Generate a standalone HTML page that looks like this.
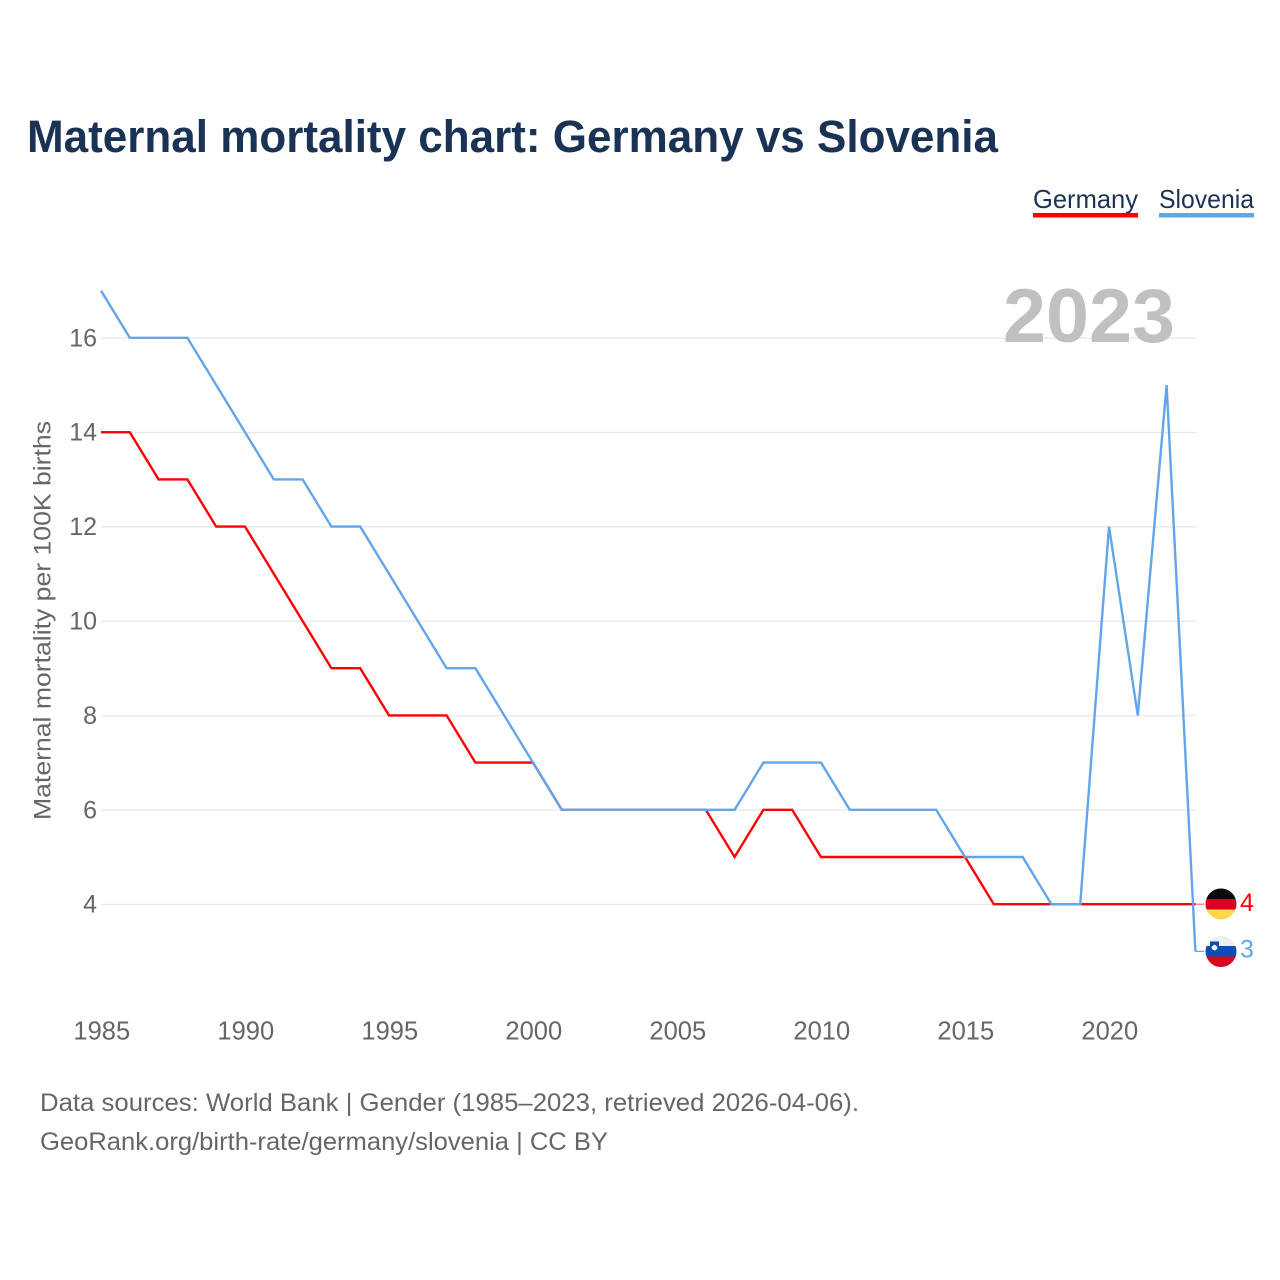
<!DOCTYPE html>
<html lang="en">
<head>
<meta charset="utf-8">
<title>Maternal mortality chart: Germany vs Slovenia</title>
<style>
html,body{margin:0;padding:0;background:#fff;}
svg{display:block;}
text{font-family:"Liberation Sans",sans-serif;}
</style>
</head>
<body>
<svg id="chart" xmlns="http://www.w3.org/2000/svg" width="1280" height="1280" viewBox="0 0 1280 1280">
  <rect x="0" y="0" width="1280" height="1280" fill="#ffffff"/>
  <defs>
    <clipPath id="clip-de"><circle cx="1221" cy="904" r="15.5"/></clipPath>
    <clipPath id="clip-si"><circle cx="1221" cy="951.5" r="15.5"/></clipPath>
  </defs>
  <text x="27" y="152" font-size="45" font-weight="700" fill="#1a3355" textLength="971" lengthAdjust="spacingAndGlyphs">Maternal mortality chart: Germany vs Slovenia</text>

  <g>
    <text x="1033" y="208" font-size="26" fill="#1a3355" textLength="105" lengthAdjust="spacingAndGlyphs">Germany</text>
    <rect x="1033" y="213" width="105" height="4.5" fill="#ff0000"/>
    <text x="1159" y="208" font-size="26" fill="#1a3355" textLength="95" lengthAdjust="spacingAndGlyphs">Slovenia</text>
    <rect x="1159" y="213" width="95" height="4.5" fill="#63a5eb"/>
  </g>

  <g id="grid"></g>
  <g id="y-ticks"></g>
  <g id="x-ticks"></g>

  <text transform="translate(50.5,820) rotate(-90)" x="0" y="0" font-size="24.5" fill="#666666" textLength="399" lengthAdjust="spacingAndGlyphs">Maternal mortality per 100K births</text>

  <text x="1003" y="342" font-size="76" font-weight="700" fill="#c0c0c0" textLength="172" lengthAdjust="spacingAndGlyphs">2023</text>

  <g id="series"></g>
  <g id="end-markers"></g>

  <g clip-path="url(#clip-de)">
    <rect x="1205" y="888" width="32" height="11" fill="#0a0a0a"/>
    <rect x="1205" y="899" width="32" height="10.5" fill="#dd0025"/>
    <rect x="1205" y="909.5" width="32" height="11" fill="#ffd84a"/>
  </g>
  <g clip-path="url(#clip-si)">
    <rect x="1205" y="935" width="32" height="11" fill="#eeeeee"/>
    <rect x="1205" y="946" width="32" height="10.5" fill="#0a4fb5"/>
    <rect x="1205" y="956.5" width="32" height="11" fill="#d8061f"/>
    <path d="M1210 941.5h9v6c0 2.5-2.5 4-4.5 4.5c-2-0.5-4.5-2-4.5-4.5z" fill="#0a4fb5"/>
    <path d="M1211.5 947l3-2.5l3 2.5c0 2-1.5 3-3 3.5c-1.5-0.5-3-1.5-3-3.5z" fill="#ffffff"/>
  </g>

  <g>
    <text x="40" y="1111" font-size="25" fill="#666666" textLength="819" lengthAdjust="spacingAndGlyphs">Data sources: World Bank | Gender (1985–2023, retrieved 2026-04-06).</text>
    <text x="40" y="1150" font-size="25" fill="#666666" textLength="568" lengthAdjust="spacingAndGlyphs">GeoRank.org/birth-rate/germany/slovenia | CC BY</text>
  </g>
</svg>
<script>
const years = [1985,1986,1987,1988,1989,1990,1991,1992,1993,1994,1995,1996,1997,1998,1999,2000,2001,2002,2003,2004,2005,2006,2007,2008,2009,2010,2011,2012,2013,2014,2015,2016,2017,2018,2019,2020,2021,2022,2023];
const germany = [14,14,13,13,12,12,11,10,9,9,8,8,8,7,7,7,6,6,6,6,6,6,5,6,6,5,5,5,5,5,5,4,4,4,4,4,4,4,4];
const slovenia = [17,16,16,16,15,14,13,13,12,12,11,10,9,9,8,7,6,6,6,6,6,6,6,7,7,7,6,6,6,6,5,5,5,4,4,12,8,15,3];
const yTickValues = [4,6,8,10,12,14,16];
const xTickValues = [1985,1990,1995,2000,2005,2010,2015,2020];

const NS = 'http://www.w3.org/2000/svg';
const xScale = function (year) { return 101 + (year - 1985) * 28.8; };
const yScale = function (v) { return 904.2 - (v - 4) * 47.2; };

const gridGroup = document.getElementById('grid');
const yTickGroup = document.getElementById('y-ticks');
const xTickGroup = document.getElementById('x-ticks');
const seriesGroup = document.getElementById('series');
const endGroup = document.getElementById('end-markers');

yTickValues.forEach(function (v) {
  const line = document.createElementNS(NS, 'line');
  
  
  line.setAttribute('x1', 101);
  line.setAttribute('x2', 1196);
  line.setAttribute('y1', yScale(v) + 0.3);
  line.setAttribute('y2', yScale(v) + 0.3);
  line.setAttribute('stroke', '#e6e6e6');
  line.setAttribute('stroke-width', '1.2');
  gridGroup.appendChild(line);

  const label = document.createElementNS(NS, 'text');
  
  
  label.setAttribute('x', 97);
  label.setAttribute('y', yScale(v) + 8.5);
  label.setAttribute('text-anchor', 'end');
  label.setAttribute('font-size', '25');
  label.setAttribute('fill', '#666666');
  label.textContent = String(v);
  yTickGroup.appendChild(label);
});

xTickValues.forEach(function (year) {
  const label = document.createElementNS(NS, 'text');
  
  
  label.setAttribute('x', xScale(year) + 0.8);
  label.setAttribute('y', 1039.5);
  label.setAttribute('text-anchor', 'middle');
  label.setAttribute('font-size', '25.5');
  label.setAttribute('fill', '#666666');
  label.textContent = String(year);
  xTickGroup.appendChild(label);
});

function pathFor(values) {
  return values.map(function (v, i) {
    return (i === 0 ? 'M' : 'L') + xScale(years[i]).toFixed(1) + ' ' + yScale(v).toFixed(1);
  }).join(' ');
}

const germanyConnector = document.createElementNS(NS, 'line');


germanyConnector.setAttribute('x1', xScale(years[years.length - 1]));
germanyConnector.setAttribute('x2', 1204);
germanyConnector.setAttribute('y1', yScale(germany[germany.length - 1]));
germanyConnector.setAttribute('y2', yScale(germany[germany.length - 1]));
germanyConnector.setAttribute('stroke', '#ff6b6b');
germanyConnector.setAttribute('stroke-width', '1.2');
endGroup.appendChild(germanyConnector);

const sloveniaConnector = document.createElementNS(NS, 'line');


sloveniaConnector.setAttribute('x1', xScale(years[years.length - 1]));
sloveniaConnector.setAttribute('x2', 1204);
sloveniaConnector.setAttribute('y1', yScale(slovenia[slovenia.length - 1]));
sloveniaConnector.setAttribute('y2', yScale(slovenia[slovenia.length - 1]));
sloveniaConnector.setAttribute('stroke', '#63a5eb');
sloveniaConnector.setAttribute('stroke-width', '1.2');
endGroup.appendChild(sloveniaConnector);

const germanyPath = document.createElementNS(NS, 'path');


germanyPath.setAttribute('d', pathFor(germany));
germanyPath.setAttribute('fill', 'none');
germanyPath.setAttribute('stroke', '#ff0000');
germanyPath.setAttribute('stroke-width', '2.4');
seriesGroup.appendChild(germanyPath);

const sloveniaPath = document.createElementNS(NS, 'path');


sloveniaPath.setAttribute('d', pathFor(slovenia));
sloveniaPath.setAttribute('fill', 'none');
sloveniaPath.setAttribute('stroke', '#63a5eb');
sloveniaPath.setAttribute('stroke-width', '2.4');
seriesGroup.appendChild(sloveniaPath);

const germanyValue = document.createElementNS(NS, 'text');


germanyValue.setAttribute('x', 1240);
germanyValue.setAttribute('y', yScale(germany[germany.length - 1]) + 7);
germanyValue.setAttribute('font-size', '25');
germanyValue.setAttribute('fill', '#ff0000');
germanyValue.textContent = String(germany[germany.length - 1]);
endGroup.appendChild(germanyValue);

const sloveniaValue = document.createElementNS(NS, 'text');


sloveniaValue.setAttribute('x', 1240);
sloveniaValue.setAttribute('y', yScale(slovenia[slovenia.length - 1]) + 6);
sloveniaValue.setAttribute('font-size', '25');
sloveniaValue.setAttribute('fill', '#63a5eb');
sloveniaValue.textContent = String(slovenia[slovenia.length - 1]);
endGroup.appendChild(sloveniaValue);
</script>
</body>
</html>
